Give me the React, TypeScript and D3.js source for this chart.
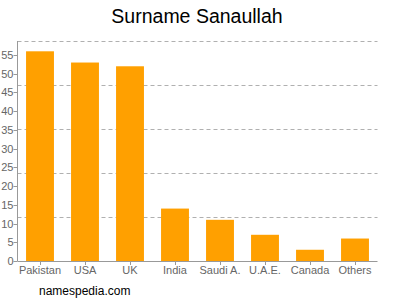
import React from "react";
import * as d3 from "d3";

const categories = ["Pakistan", "USA", "UK", "India", "Saudi A.", "U.A.E.", "Canada", "Others"];
const values = [56, 53, 52, 14, 11, 7, 3, 6];
const yTicks = [0, 5, 10, 15, 20, 25, 30, 35, 40, 45, 50, 55];
const title = "Surname Sanaullah";
const footer = "namespedia.com";

export default function App() {
  const W = 400, H = 300;
  const left = 17.5, right = 377.5, top = 41, bottom = 261;
  const x = d3.scaleBand<string>().domain(categories).range([left, right]).paddingInner(0.38).paddingOuter(0.19);
  const y = d3.scaleLinear().domain([0, 58.75]).range([bottom, top]);
  const grid = d3.range(1, 6).map((i) => (58.75 / 5) * i);
  const font = "Liberation Sans, Arial, sans-serif";
  return (
    <svg width={W} height={H} style={{ position: "absolute", left: 0, top: 0, background: "#fff" }}>
      <text x={197} y={23} textAnchor="middle" fontFamily={font} fontSize={19.5} fill="#000">{title}</text>
      {grid.map((g, i) => (
        <line key={i} x1={left} x2={right} y1={Math.round(y(g)) + 0.5} y2={Math.round(y(g)) + 0.5}
          stroke="#b0b0b0" strokeDasharray="4,3" strokeWidth={1} />
      ))}
      {categories.map((c, i) => (
        <rect key={c} x={x(c)} y={y(values[i])} width={x.bandwidth()} height={bottom - y(values[i])} fill="#FFA000" />
      ))}
      <line x1={left} x2={left} y1={top} y2={bottom} stroke="#999" />
      <line x1={left} x2={right} y1={bottom + 0.5} y2={bottom + 0.5} stroke="#999" />
      {yTicks.map((t) => (
        <g key={t}>
          <line x1={left - 4} x2={left} y1={Math.round(y(t)) + 0.5} y2={Math.round(y(t)) + 0.5} stroke="#999" />
          <text x={left - 4} y={y(t) + 4} textAnchor="end" fontFamily={font} fontSize={11} fill="#666">{t}</text>
        </g>
      ))}
      {categories.map((c) => (
        <g key={c}>
          <line x1={Math.round(x(c)! + x.bandwidth() / 2) + 0.5} x2={Math.round(x(c)! + x.bandwidth() / 2) + 0.5}
            y1={bottom} y2={bottom + 4} stroke="#999" />
          <text x={x(c)! + x.bandwidth() / 2} y={bottom + 13} textAnchor="middle" fontFamily={font} fontSize={11} fill="#666">{c}</text>
        </g>
      ))}
      <text x={39} y={295} fontFamily={font} fontSize={12} fill="#000">{footer}</text>
    </svg>
  );
}
